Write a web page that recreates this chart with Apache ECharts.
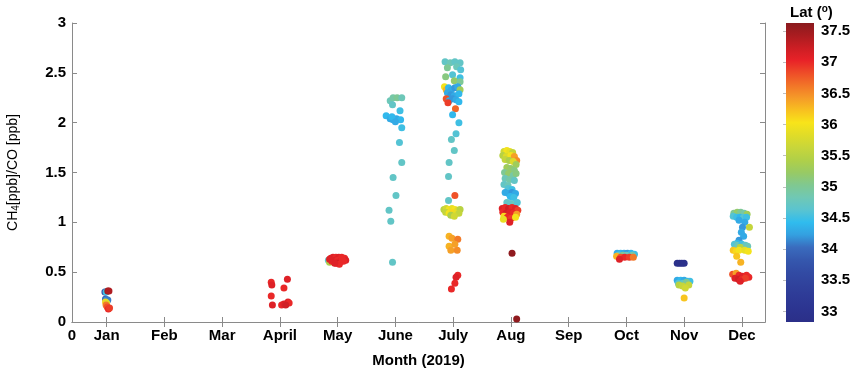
<!DOCTYPE html>
<html><head><meta charset="utf-8">
<script src="https://cdn.jsdelivr.net/npm/echarts@6/dist/echarts.min.js"></script>
<style>html,body{margin:0;padding:0;background:#fff}#c{width:853px;height:369px}</style>
</head><body><div id="c"></div>
<script>
// month names and ticks
const monthNames = ['Jan','Feb','Mar','April','May','June','July','Aug','Sep','Oct','Nov','Dec'];
const monthTicks = [1,2,3,4,5,6,7,8,9,10,11,12];
const yTicks = [0,0.5,1,1.5,2,2.5,3];
const latTicks = [33,33.5,34,34.5,35,35.5,36,36.5,37,37.5];
// colour scale (jet-like), evenly spaced stops from latMin to latMax
const latMin = 32.83, latMax = 37.63;
const latColors = ['#2b2f88','#2c3490','#2e3a96','#30429c','#324ba4','#3558ae','#3a6cbe','#34a0e0','#30bcee','#5ac4d0','#70c8b4','#80c890','#98ca64','#b0d048','#c8d63a','#e0dc28','#f8e41a','#f8c020','#f59a28','#f27428','#ee4c28','#e82228','#cc1e24','#aa1c20','#8a1a1e'];

// data: [month position, CH4/CO ratio, latitude]
const jan = [[0.97,0.30,33.6],[0.99,0.30,34.5],[1.02,0.31,37.5],[1.04,0.31,37.4],[0.98,0.23,34.0],[1.0,0.22,34.2],[1.02,0.22,34.1],[0.98,0.20,36.1],[1.0,0.19,35.8],[0.99,0.17,36.6],[1.01,0.15,36.8],[1.03,0.13,37.0],[1.05,0.14,36.9]];
const apr = [[3.85,0.40,37.0],[3.86,0.37,37.1],[4.13,0.43,37.1],[4.07,0.34,37.0],[3.85,0.26,37.0],[3.87,0.17,37.1],[4.03,0.17,37.0],[4.07,0.18,37.1],[4.11,0.18,37.0],[4.14,0.20,37.1],[4.16,0.19,37.0],[4.10,0.17,37.2]];
const may = [[4.84,0.62,34.7],[4.86,0.60,35.4],[4.88,0.64,37.0],[4.92,0.65,37.1],[4.97,0.65,37.0],[5.02,0.65,37.1],[5.07,0.65,37.0],[5.12,0.64,37.0],[5.14,0.62,37.1],[4.90,0.61,37.0],[4.95,0.62,37.1],[5.00,0.62,37.0],[5.05,0.61,37.1],[5.10,0.61,37.0],[4.98,0.59,37.2],[5.03,0.58,37.0],[4.95,0.59,37.1],[5.08,0.63,37.0],[4.86,0.63,37.1]];
const jun = [[5.91,2.22,34.8],[5.96,2.25,34.9],[6.03,2.25,35.0],[6.11,2.25,34.8],[5.95,2.18,34.7],[6.08,2.12,34.5],[5.84,2.07,34.4],[5.91,2.04,34.3],[5.96,2.03,34.3],[6.02,2.04,34.3],[6.09,2.03,34.4],[5.94,2.06,34.4],[6.00,2.01,34.3],[6.11,1.95,34.5],[6.07,1.80,34.6],[6.11,1.60,34.7],[5.96,1.45,34.7],[6.01,1.27,34.7],[5.89,1.12,34.7],[5.92,1.01,34.7],[5.95,0.60,34.7]];
const jul = [[6.86,2.61,34.7],[6.95,2.60,34.8],[7.03,2.61,34.7],[7.12,2.60,34.7],[6.90,2.55,35.0],[7.06,2.56,34.8],[7.13,2.53,34.6],[6.87,2.46,35.1],[6.99,2.48,34.6],[7.12,2.45,34.5],[7.02,2.42,35.2],[7.12,2.41,35.0],[6.85,2.36,36.0],[6.88,2.33,36.3],[6.92,2.35,34.4],[6.97,2.33,34.3],[7.03,2.35,34.2],[7.08,2.36,34.3],[7.12,2.33,35.3],[6.90,2.30,34.3],[6.96,2.28,34.2],[7.02,2.27,34.3],[7.10,2.29,34.4],[6.88,2.24,36.8],[6.93,2.22,34.3],[6.99,2.24,34.2],[7.05,2.23,34.3],[7.10,2.21,34.4],[6.91,2.20,36.9],[7.04,2.14,36.7],[6.99,2.08,34.4],[7.10,2.00,34.5],[7.05,1.89,34.6],[6.97,1.83,34.7],[7.02,1.72,34.7],[6.93,1.60,34.7],[6.92,1.46,34.7],[6.92,1.22,34.7],[7.03,1.27,36.8],
 [6.84,1.13,35.5],[6.88,1.14,35.7],[6.93,1.13,36.0],[6.98,1.14,35.9],[7.03,1.13,36.0],[7.08,1.12,35.8],[7.12,1.13,35.5],[6.87,1.10,35.6],[6.93,1.09,36.0],[6.99,1.10,36.1],[7.05,1.09,35.9],[7.10,1.09,35.6],[6.96,1.07,35.4],[7.02,1.06,35.7],
 [6.93,0.86,36.3],[6.98,0.84,36.4],[7.08,0.83,36.6],[6.93,0.76,36.3],[7.03,0.78,36.4],[6.96,0.72,36.4],[7.07,0.72,36.5],
 [7.08,0.47,37.0],[7.05,0.45,37.1],[7.03,0.39,37.0],[6.97,0.33,37.0]];
const aug = [[7.88,1.71,35.7],[7.93,1.72,36.0],[7.98,1.71,35.9],[8.03,1.70,35.6],[7.86,1.67,35.5],[7.92,1.66,35.8],[8.00,1.67,36.0],[8.06,1.66,36.4],[8.10,1.62,36.5],[7.90,1.63,35.6],[7.97,1.62,35.4],[8.04,1.61,35.8],[8.09,1.58,35.3],
 [7.93,1.55,35.3],[8.00,1.54,35.2],[8.06,1.52,35.1],[7.89,1.50,35.0],[7.96,1.49,35.2],[8.04,1.47,34.9],[8.09,1.49,35.1],[7.90,1.44,34.8],[7.98,1.43,34.9],[8.06,1.42,34.7],[7.88,1.38,34.7],[7.95,1.37,34.8],
 [7.95,1.34,34.6],[8.02,1.33,34.5],[7.90,1.30,34.3],[7.96,1.29,34.3],[8.02,1.30,34.2],[8.08,1.29,34.3],[7.99,1.26,34.4],[8.05,1.25,34.5],
 [7.93,1.20,34.7],[8.00,1.19,34.7],[8.07,1.18,34.8],[8.11,1.20,34.6],
 [7.85,1.14,37.1],[7.90,1.15,37.0],[7.96,1.14,37.2],[8.02,1.15,37.0],[8.08,1.14,37.1],[8.12,1.12,36.9],[7.86,1.10,37.0],[7.92,1.09,37.2],[7.98,1.10,37.1],[8.04,1.09,37.0],[8.10,1.08,36.4],[7.88,1.06,36.1],[7.94,1.05,37.0],[8.01,1.04,36.9],[8.08,1.05,36.0],[7.98,1.00,37.1],[7.87,1.03,35.9],
 [8.02,0.69,37.6],[8.10,0.03,37.6]];
const oct = [[9.84,0.69,34.3],[9.90,0.69,34.4],[9.96,0.69,34.3],[10.02,0.69,34.2],[10.08,0.69,34.4],[10.14,0.68,34.5],[9.86,0.67,34.7],[9.94,0.67,35.0],[10.00,0.67,34.8],[10.10,0.67,34.9],[9.83,0.66,36.3],[9.90,0.65,36.8],[9.97,0.65,37.0],[10.05,0.65,36.9],[10.12,0.65,36.6],[9.88,0.63,37.1]];
const nov = [[10.88,0.59,32.9],[10.92,0.59,32.9],[10.96,0.59,32.85],[11.00,0.59,32.9],[10.88,0.42,34.3],[10.94,0.42,34.4],[11.00,0.42,34.3],[11.06,0.41,34.4],[11.10,0.41,34.5],[10.90,0.39,34.6],[10.98,0.39,34.7],[11.04,0.40,35.0],[10.91,0.37,35.5],[10.97,0.36,35.6],[11.08,0.37,35.6],[11.02,0.34,35.7],[11.00,0.24,36.2]];
const dec = [[11.86,1.09,35.0],[11.92,1.10,35.2],[11.98,1.10,35.0],[12.04,1.09,34.9],[12.09,1.08,35.3],[11.85,1.06,34.6],[11.91,1.05,34.5],[11.97,1.05,34.4],[12.03,1.05,34.6],[12.08,1.05,34.5],[11.95,1.02,34.3],[12.05,1.00,34.3],[12.13,0.95,35.6],[12.01,0.95,34.2],[11.99,0.90,34.3],[12.03,0.86,34.3],[11.95,0.82,34.2],[11.92,0.79,34.4],[11.87,0.78,34.6],[11.93,0.77,34.8],[12.00,0.78,34.5],[12.06,0.77,34.7],[12.10,0.76,34.8],[11.97,0.75,35.5],[11.85,0.72,36.2],[11.90,0.71,36.1],[11.95,0.72,36.0],[12.05,0.72,35.9],[12.11,0.71,36.0],[11.91,0.66,36.2],[11.98,0.60,36.3],[11.84,0.48,36.8],[11.90,0.49,36.4],[11.95,0.47,37.0],[12.01,0.46,37.1],[12.08,0.47,37.0],[12.12,0.45,37.0],[11.88,0.44,37.1],[11.94,0.43,37.2],[12.00,0.43,37.0],[12.06,0.44,36.9],[11.97,0.41,37.1]];

const monthData = [jan, apr, may, jun, jul, aug, oct, nov, dec];
// colour bar extent: [x0, x1, lat bottom, lat top]
const colorBar = [[0, 1, latMin, latMax]];

const FONT = 'Liberation Sans';
const axisGray = '#8a8a8a';
const chart = echarts.init(document.getElementById('c'), null, {renderer: 'canvas'});
const series = monthData.map(d => ({
  type: 'scatter', xAxisIndex: 0, yAxisIndex: 0, data: d,
  symbol: 'circle', symbolSize: 7, itemStyle: {opacity: 1}, silent: true
}));
const gradStops = latColors.slice().reverse().map((c, i, a) => ({offset: i / (a.length - 1), color: c}));
series.push({
  type: 'custom', xAxisIndex: 2, yAxisIndex: 2, data: colorBar, silent: true,
  renderItem: (params, api) => {
    const pTop = api.coord([api.value(0), api.value(3)]);
    const pBot = api.coord([api.value(1), api.value(2)]);
    return {type: 'rect', shape: {x: pTop[0], y: pTop[1], width: pBot[0] - pTop[0], height: pBot[1] - pTop[1]},
      style: {fill: new echarts.graphic.LinearGradient(0, 0, 0, 1, gradStops)}};
  }
});
chart.setOption({
  animation: false,
  backgroundColor: '#fff',
  textStyle: {fontFamily: FONT},
  title: {
    text: '{a|Lat (}{s|o}{a|)}', left: 785, top: -1,
    textStyle: {rich: {
      a: {fontFamily: FONT, fontWeight: 'bold', fontSize: 15, color: '#000', lineHeight: 18},
      s: {fontFamily: FONT, fontWeight: 'bold', fontSize: 10, color: '#000', verticalAlign: 'top', lineHeight: 18, padding: [0,0,6,0]}
    }}
  },
  grid: [
    {left: 72, right: 88, top: 23, bottom: 47, containLabel: false, outerBoundsMode: 'none'},
    {left: 786, width: 28, top: 23, height: 299, containLabel: false, outerBoundsMode: 'none'}
  ],
  xAxis: [
    {type: 'value', gridIndex: 0, min: 0.4, max: 12.4, position: 'bottom',
     name: 'Month (2019)', nameLocation: 'middle', nameGap: 31,
     nameTextStyle: {fontFamily: FONT, fontWeight: 'bold', fontSize: 15, color: '#000'},
     axisLine: {lineStyle: {color: axisGray, width: 1}},
     axisTick: {inside: true, length: 5, lineStyle: {color: axisGray}, customValues: monthTicks},
     axisLabel: {customValues: [0.4].concat(monthTicks), margin: 6, fontFamily: FONT, fontWeight: 'bold', fontSize: 15, color: '#000',
       formatter: v => (Math.abs(v - 0.4) < 1e-6 ? '0' : (monthNames[Math.round(v) - 1] || ''))},
     splitLine: {show: false}},
    {type: 'value', gridIndex: 0, min: 0.4, max: 12.4, position: 'top',
     axisLine: {lineStyle: {color: axisGray, width: 1}},
     axisTick: {inside: true, length: 5, lineStyle: {color: axisGray}, customValues: monthTicks},
     axisLabel: {show: false}, splitLine: {show: false}},
    {type: 'value', gridIndex: 1, min: 0, max: 1, show: false}
  ],
  yAxis: [
    {type: 'value', gridIndex: 0, min: 0, max: 3, interval: 0.5, position: 'left',
     name: '{a|CH}{s|4}{a|[ppb]/CO [ppb]}', nameLocation: 'middle', nameGap: 51,
     nameTextStyle: {rich: {
       a: {fontFamily: FONT, fontSize: 14, color: '#000'},
       s: {fontFamily: FONT, fontSize: 10, color: '#000', verticalAlign: 'bottom', padding: [6,0,0,0]}
     }},
     axisLine: {lineStyle: {color: axisGray, width: 1}},
     axisTick: {inside: true, length: 5, lineStyle: {color: axisGray}},
     axisLabel: {margin: 6, fontFamily: FONT, fontWeight: 'bold', fontSize: 15, color: '#000',
       formatter: v => String(v)},
     splitLine: {show: false}},
    {type: 'value', gridIndex: 0, min: 0, max: 3, interval: 0.5, position: 'right',
     axisLine: {lineStyle: {color: axisGray, width: 1}},
     axisTick: {inside: true, length: 5, lineStyle: {color: axisGray}},
     axisLabel: {show: false}, splitLine: {show: false}},
    {type: 'value', gridIndex: 1, min: latMin, max: latMax, position: 'right',
     axisLine: {show: false},
     axisTick: {show: true, inside: true, length: 3, customValues: latTicks, lineStyle: {color: 'rgba(0,0,0,0.25)'}},
     axisLabel: {customValues: latTicks, margin: 7, fontFamily: FONT, fontWeight: 'bold', fontSize: 15, color: '#000',
       formatter: v => String(v)},
     splitLine: {show: false}}
  ],
  visualMap: {
    type: 'continuous', dimension: 2, min: latMin, max: latMax,
    seriesIndex: monthData.map((_, i) => i),
    inRange: {color: latColors},
    show: false
  },
  series: series
});
</script></body></html>
